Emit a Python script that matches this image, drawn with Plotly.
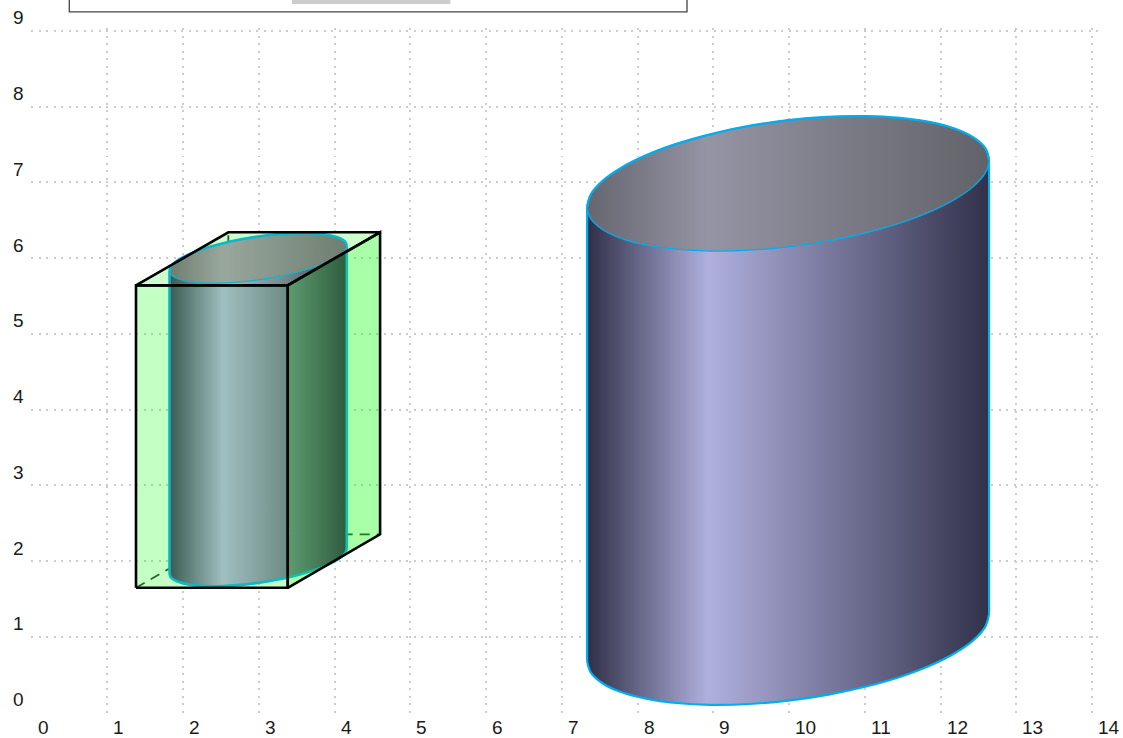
import plotly.graph_objects as go

# Tick labels
x_ticks = list(range(0, 15))
y_ticks = list(range(0, 10))

# Large cylinder: outline of its top rim
big_top_x = [12.639, 12.589, 12.437, 12.191, 11.862, 11.461, 11.002, 10.503,
             9.986, 9.469, 8.970, 8.511, 8.110, 7.781, 7.535, 7.383,
             7.333, 7.383, 7.535, 7.781, 8.110, 8.511, 8.970, 9.469,
             9.986, 10.503, 11.002, 11.461, 11.862, 12.191, 12.437, 12.589]
big_top_y = [7.295, 7.452, 7.591, 7.708, 7.795, 7.852, 7.876, 7.865,
             7.821, 7.745, 7.638, 7.508, 7.357, 7.192, 7.019, 6.844,
             6.675, 6.518, 6.379, 6.262, 6.175, 6.118, 6.094, 6.105,
             6.149, 6.225, 6.332, 6.462, 6.613, 6.778, 6.951, 7.126]
big_height = 5.99

# Small cylinder: outline of its top rim
small_top_x = [4.160, 4.138, 4.071, 3.962, 3.817, 3.641, 3.438, 3.218,
               2.990, 2.762, 2.542, 2.339, 2.163, 2.018, 1.909, 1.842,
               1.820, 1.842, 1.909, 2.018, 2.163, 2.339, 2.542, 2.762,
               2.990, 3.218, 3.438, 3.641, 3.817, 3.962, 4.071, 4.138]
small_top_y = [6.165, 6.218, 6.262, 6.296, 6.319, 6.330, 6.327, 6.313,
               6.286, 6.249, 6.201, 6.146, 6.085, 6.022, 5.958, 5.894,
               5.835, 5.782, 5.738, 5.704, 5.681, 5.670, 5.673, 5.687,
               5.714, 5.751, 5.799, 5.854, 5.915, 5.978, 6.042, 6.106]
small_height = 4.0

# Box corners
box_front_x = [1.378, 3.381]
box_front_y = [1.649, 5.641]
box_back_x = [2.597, 4.600]
box_back_y = [2.354, 6.341]

# Colours
BIG_BODY = [[0, "#2f2f47"], [0.30, "#b0b0de"], [1, "#31314a"]]
BIG_TOP = [[0, "#666670"], [0.30, "#9494a4"], [1, "#626269"]]
SMALL_BODY = [[0, "#4d2a6c"], [0.30, "#d0acfa"], [0.67, "#8f68ac"], [1, "#47085e"]]
SMALL_TOP = [[0, "#895e89"], [0.30, "#c092c5"], [1, "#8a5e8c"]]
BIG_RIM = "#00aeef"
SMALL_RIM = "#10a4ff"

fig = go.Figure()


def add_cylinder(top_x, top_y, height, body_scale, top_scale, rim, side_width):
    low_y = [v - height for v in top_y]
    left, right = min(top_x), max(top_x)
    half = len(top_x) // 2
    grad = dict(type="horizontal", colorscale=body_scale, start=left, stop=right)
    grad_top = dict(type="horizontal", colorscale=top_scale, start=left, stop=right)
    # body: quad between the rims plus the lower rim
    fig.add_trace(go.Scatter(
        x=[left, left, right, right, left],
        y=[low_y[half], top_y[half], top_y[0], low_y[0], low_y[half]],
        mode="lines", line=dict(width=0), fill="toself", fillgradient=grad))
    fig.add_trace(go.Scatter(
        x=top_x + top_x[:1], y=low_y + low_y[:1],
        mode="lines", line=dict(width=0, shape="spline"), fill="toself", fillgradient=grad))
    # outline of the body
    fig.add_trace(go.Scatter(
        x=top_x[half:] + top_x[:1], y=low_y[half:] + low_y[:1],
        mode="lines", line=dict(color=rim, width=side_width, shape="spline")))
    for side_x, i in ((left, half), (right, 0)):
        fig.add_trace(go.Scatter(
            x=[side_x, side_x], y=[low_y[i], top_y[i]],
            mode="lines", line=dict(color=rim, width=side_width)))
    # top rim
    fig.add_trace(go.Scatter(
        x=top_x + top_x[:3], y=top_y + top_y[:3],
        mode="lines", line=dict(color=rim, width=1.3, shape="spline"),
        fill="toself", fillgradient=grad_top))
    fig.add_trace(go.Scatter(
        x=top_x[:half + 1], y=top_y[:half + 1],
        mode="lines", line=dict(color=rim, width=side_width, shape="spline")))


add_cylinder(big_top_x, big_top_y, big_height, BIG_BODY, BIG_TOP, BIG_RIM, 2.2)

# Hidden box edges
fx0, fx1 = box_front_x
fy0, fy1 = box_front_y
bx0, bx1 = box_back_x
by0, by1 = box_back_y
fig.add_trace(go.Scatter(
    x=[fx0, bx0, bx1, None, bx0, bx0], y=[fy0, by0, by0, None, by0, by1],
    mode="lines", line=dict(color="#333333", width=1.8, dash="10px,7px")))

add_cylinder(small_top_x, small_top_y, small_height, SMALL_BODY, SMALL_TOP, SMALL_RIM, 2.6)

# Box faces
faces = [
    ([fx0, fx1, bx1, bx0, fx0], [fy1, fy1, by1, by1, fy1], "rgba(0,255,0,0.2)"),
    ([fx1, bx1, bx1, fx1, fx1], [fy0, by0, by1, fy1, fy0], "rgba(0,255,0,0.34)"),
    ([fx0, fx1, fx1, fx0, fx0], [fy0, fy0, fy1, fy1, fy0], "rgba(0,255,0,0.23)"),
]
for fx, fy, col in faces:
    fig.add_trace(go.Scatter(
        x=fx, y=fy, mode="lines", fill="toself", fillcolor=col,
        line=dict(color="#000000", width=2.6)))

annotations = []
FONT = dict(family="Liberation Sans, Arial, sans-serif", size=19, color="#1a1a1a")
for v in x_ticks:
    annotations.append(dict(
        x=v, y=0, xref="x", yref="y", text=str(v), showarrow=False, font=FONT,
        xanchor="left", yanchor="middle", xshift=4, yshift=-15))
for v in y_ticks:
    annotations.append(dict(
        x=0, y=v, xref="x", yref="y", text=str(v), showarrow=False, font=FONT,
        xanchor="right", yanchor="middle", xshift=-6, yshift=13))

shapes = [
    dict(type="rect", xref="paper", yref="paper", x0=0.0359, x1=0.6148, y0=1.0234, y1=1.08,
         line=dict(color="#444444", width=1.3), fillcolor="#ffffff"),
    dict(type="rect", xref="paper", yref="paper", x0=0.2446, x1=0.3930, y0=1.0350, y1=1.08,
         line=dict(width=0), fillcolor="#cccccc"),
]

axis_style = dict(
    showgrid=True, gridcolor="#cccccc", griddash="2px,5.5px", gridwidth=1.6,
    zeroline=False, showline=False, showticklabels=False, ticks="", dtick=1, tick0=0,
)
fig.update_layout(
    width=1123, height=738, showlegend=False,
    margin=dict(l=31, r=25, t=28, b=25, autoexpand=False),
    paper_bgcolor="#ffffff", plot_bgcolor="#ffffff",
    xaxis=dict(range=[-0.008, 14.077], **axis_style),
    yaxis=dict(range=[-0.004, 9.038], **axis_style),
    annotations=annotations, shapes=shapes, hovermode=False,
)
fig.write_html("out.html", config=dict(displayModeBar=False),
               post_script="document.body.style.margin='0';document.body.style.overflow='hidden';")
